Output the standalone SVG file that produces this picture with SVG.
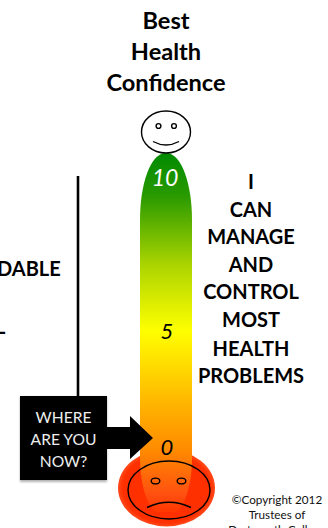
<svg xmlns="http://www.w3.org/2000/svg" width="328" height="528" viewBox="0 0 328 528">
<style>
text{font-family:Lato,"Open Sans","Liberation Sans",sans-serif;text-anchor:middle}
.t{font-size:23.6px;font-weight:700;fill:#000}
.r{font-size:20px;font-weight:700;fill:#000}
.l{text-anchor:start}
.n{font-size:22px;font-style:italic;fill:#000}
.w{font-size:15.6px;fill:#eee}
.c{font-size:11.7px;fill:#111}
.f{fill:none;stroke:#000;stroke-width:1.4}
</style>
<defs>
<linearGradient id="g" gradientUnits="userSpaceOnUse" x1="0" y1="153" x2="0" y2="512">
<stop offset="0" stop-color="#008a00"/>
<stop offset=".12" stop-color="#2a9a00"/>
<stop offset=".31" stop-color="#aad400"/>
<stop offset=".495" stop-color="#ffff00"/>
<stop offset=".7" stop-color="#ffb400"/>
<stop offset=".83" stop-color="#ff8a00"/>
<stop offset=".95" stop-color="#ff5010"/>
<stop offset="1" stop-color="#ff3600"/>
</linearGradient>
<radialGradient id="rg" cx=".5" cy=".5" r=".5">
<stop offset="0" stop-color="#ff3000"/>
<stop offset=".9" stop-color="#ff3000"/>
<stop offset="1" stop-color="#ff4a1c"/>
</radialGradient>
<filter id="s" x="-10%" y="-10%" width="120%" height="120%"><feGaussianBlur stdDeviation="1"/></filter>
</defs>
<g id="title"><text class="t" x="166" y="29">Best</text><text class="t" x="166" y="60">Health</text><text class="t" x="166" y="91">Confidence</text></g>
<g id="left-text"><text class="r l" x="-3" y="276">DABLE</text><text class="r l" x="-5" y="334">L</text></g>
<g id="connectors"><line x1="78" y1="176" x2="78" y2="398" stroke="#000" stroke-width="2.6"/></g>
<g id="sad-face">
<ellipse cx="166.5" cy="488" rx="48.5" ry="38.5" fill="url(#rg)"/>
</g>
<g id="thermometer">
<path d="M140 220C140 185 150 153 166 153C182 153 192 185 192 220V458C192 482 186 505 176 512H156C146 505 140 482 140 458Z" fill="url(#g)"/>
<text class="n" x="165" y="186" style="fill:#fff;font-size:23px">10</text>
<text class="n" x="167" y="339">5</text>
<text class="n" x="167" y="455">0</text>
</g>
<g id="sad-face-lines">
<ellipse class="f" cx="169" cy="490" rx="41" ry="29"/>
<ellipse class="f" cx="155.5" cy="481" rx="4.3" ry="2.9"/>
<ellipse class="f" cx="181.5" cy="481" rx="4.3" ry="2.9"/>
<path class="f" d="M147 507.500Q169 497 191 507.500"/>
</g>
<g id="happy-face">
<ellipse class="f" cx="166" cy="132" rx="24.5" ry="21" fill="#fff"/>
<circle class="f" cx="158.5" cy="126" r="2.4" stroke-width="1" fill="#ddd"/>
<circle class="f" cx="174" cy="126" r="2.4" stroke-width="1" fill="#ddd"/>
<path class="f" d="M153 141.500Q166 148.500 179 141.500"/>
</g>
<g id="right-text">
<text class="r" x="251" y="189">I</text>
<text class="r" x="251" y="217">CAN</text>
<text class="r" x="251" y="244">MANAGE</text>
<text class="r" x="251" y="272">AND</text>
<text class="r" x="251" y="299">CONTROL</text>
<text class="r" x="251" y="327">MOST</text>
<text class="r" x="251" y="356">HEALTH</text>
<text class="r" x="251" y="383">PROBLEMS</text>
</g>
<g id="callout">
<rect x="20" y="396" width="87" height="85" fill="#000" opacity=".3" filter="url(#s)" transform="translate(0 1)"/>
<path d="M20 396H107V427H130V416L153 438L130 459V449H107V480H20Z" fill="#000"/>
<text class="w" x="63.500" y="423">WHERE</text>
<text class="w" x="63.500" y="445">ARE YOU</text>
<text class="w" x="63.500" y="467">NOW?</text>
</g>
<g id="copyright">
<text class="c" x="277" y="504">©Copyright 2012</text>
<text class="c" x="277" y="519">Trustees of</text>
<text class="c" x="277" y="534">Dartmouth College</text>
</g>
</svg>
